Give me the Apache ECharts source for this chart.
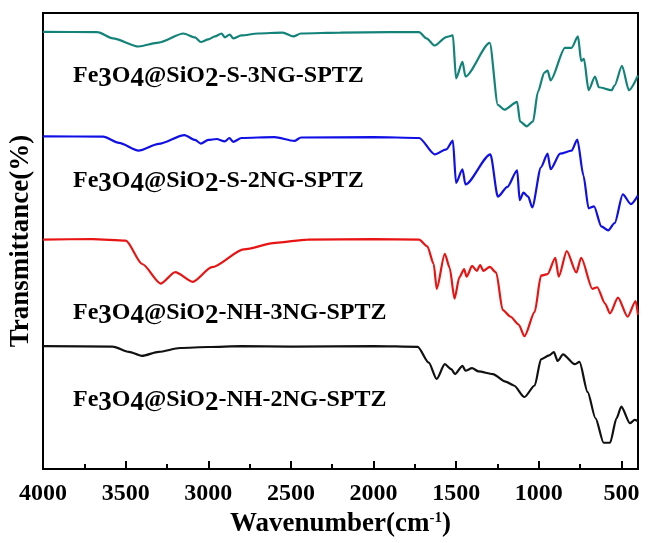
<!DOCTYPE html>
<html>
<head>
<meta charset="utf-8">
<script src="https://cdn.jsdelivr.net/npm/echarts@6/dist/echarts.min.js"></script>
<style>
  html, body { margin: 0; padding: 0; background: #fff; }
  #chart { width: 666px; height: 543px; }
</style>
</head>
<body>
<div id="chart"></div>
<script>
// FT-IR spectra, wavenumber (cm-1) vs stacked transmittance (arbitrary offset units)
const majorTicks = [4000, 3500, 3000, 2500, 2000, 1500, 1000, 500];
const minorTicks = [3750, 3250, 2750, 2250, 1750, 1250, 750];

// Fe3O4@SiO2-S-3NG-SPTZ (teal)
const waveS3 = [4000, 3670, 3577, 3422, 3300, 3150, 3080, 3045, 3000, 2960, 2920, 2900, 2870, 2850, 2800, 2700, 2550, 2485, 2440, 2200, 1900, 1724, 1680, 1630, 1560, 1520, 1501, 1462, 1444, 1297, 1248, 1209, 1131, 1114, 1073, 1035, 1006, 967, 947, 929, 842, 802, 763, 744, 727, 699, 660, 637, 559, 541, 497, 455, 400];
const transS3 = [447.7, 447.5, 441, 432.7, 436.7, 446, 442, 437.3, 440, 443, 446, 442, 445, 441, 444, 446, 447, 443, 446, 447, 447.5, 447.5, 441, 433.7, 442.4, 444, 400, 417, 402, 436.4, 373, 368, 376, 356, 351, 356, 386, 406, 408, 398, 431.3, 431.3, 443, 418, 420, 388, 402, 391, 388, 393, 413, 388, 403];

// Fe3O4@SiO2-S-2NG-SPTZ (blue)
const waveS2 = [4000, 3636, 3540, 3422, 3300, 3144, 3080, 3045, 3000, 2950, 2900, 2872, 2850, 2800, 2600, 2479, 2440, 2000, 1724, 1630, 1560, 1520, 1501, 1462, 1444, 1293, 1248, 1190, 1131, 1116, 1093, 1064, 1040, 987, 947, 929, 871, 802, 767, 730, 699, 666, 622, 580, 541, 492, 443, 400];
const transS2 = [340.7, 340.5, 334, 326, 333, 342, 337, 333.3, 337, 338, 335.5, 339, 335, 339, 340, 336, 339.5, 340, 339, 322.3, 327.3, 336.4, 293, 307, 291.4, 322.3, 279, 289, 306, 275.3, 283, 279, 268, 309, 323, 307, 323, 326, 337.4, 300.5, 267, 269, 248.5, 244.4, 252, 281.3, 271.3, 280.3];

// Fe3O4@SiO2-NH-3NG-SPTZ (red)
const waveN3 = [4000, 3700, 3499, 3400, 3287, 3200, 3094, 2978, 2785, 2594, 2400, 2000, 1724, 1675, 1636, 1618, 1569, 1540, 1510, 1481, 1452, 1437, 1404, 1375, 1355, 1336, 1297, 1258, 1219, 1171, 1122, 1087, 1025, 987, 947, 900, 880, 831, 773, 744, 676, 647, 599, 570, 521, 463, 414, 400];
const transN3 = [235, 235.5, 234, 210, 190, 201.7, 191.7, 206.7, 225, 231.7, 235, 235.5, 235, 228.2, 210, 184.6, 220.5, 206.4, 174.5, 196.3, 204.7, 197, 208, 203, 209, 203, 207, 201.3, 163, 156, 148, 136, 161, 198, 199.7, 216.4, 197, 223.2, 201.3, 216.4, 184.6, 186.2, 169.5, 159.4, 175.5, 156, 172.1, 158];

// Fe3O4@SiO2-NH-2NG-SPTZ (black)
const waveN2 = [4000, 3577, 3480, 3402, 3300, 3171, 3000, 2800, 2500, 2000, 1733, 1666, 1618, 1569, 1530, 1507, 1462, 1444, 1404, 1365, 1278, 1201, 1151, 1087, 1025, 987, 938, 909, 886, 854, 783, 754, 705, 657, 608, 569, 530, 501, 449, 420, 400];
const transN2 = [126, 125.5, 120, 116, 120, 124, 125, 126, 125.5, 126, 125.2, 109, 92.3, 107.4, 102.3, 97.3, 105.7, 100.7, 103.4, 100, 97.3, 89.6, 85.6, 73.8, 85.6, 112.4, 116.4, 119.8, 110.7, 117.4, 107.4, 109.7, 79, 52, 27, 27, 52, 64, 47, 50.3, 49];

const seriesNames = ['Fe3O4@SiO2-S-3NG-SPTZ', 'Fe3O4@SiO2-S-2NG-SPTZ', 'Fe3O4@SiO2-NH-3NG-SPTZ', 'Fe3O4@SiO2-NH-2NG-SPTZ'];
const colors = ['#13837a', '#1010e6', '#e81414', '#111111'];

const pairs = (w, t) => w.map((x, i) => [x, t[i]]);
const spectra = [pairs(waveS3, transS3), pairs(waveS2, transS2), pairs(waveN3, transN3), pairs(waveN2, transN2)];

const font = 'Liberation Serif, Times New Roman, serif';

// label text with the formula digits drawn larger, like the original
const richLabel = (name) => name.replace(/(Fe)3(O)4(@SiO)2/, '$1{d|3}$2{d|4}$3{d|2}');
const labelTops = [64, 169, 301, 388];

const chart = echarts.init(document.getElementById('chart'), null, { renderer: 'canvas' });

chart.setOption({
  backgroundColor: '#fff',
  animation: false,
  grid: {
    left: 40, right: 3, top: 13, bottom: 63,
    show: true, borderColor: '#000', borderWidth: 2, backgroundColor: 'transparent'
  },
  xAxis: [
    {
      type: 'value',
      min: 400,
      max: 4000,
      inverse: true,
      name: 'Wavenumber(cm{sup|-1})',
      nameLocation: 'middle',
      nameGap: 38,
      nameTextStyle: {
        fontFamily: font, fontWeight: 'bold', fontSize: 27, color: '#000',
        rich: { sup: { fontFamily: font, fontWeight: 'bold', fontSize: 15, verticalAlign: 'top', padding: [0, 0, 12, 0], color: '#000' } }
      },
      axisLine: { show: true, onZero: false, lineStyle: { color: '#000', width: 2 } },
      axisTick: { show: true, inside: true, length: 8, customValues: majorTicks, lineStyle: { color: '#000', width: 2 } },
      axisLabel: {
        customValues: majorTicks, margin: 13,
        formatter: (v) => String(v),
        fontFamily: font, fontWeight: 'bold', fontSize: 24, color: '#000'
      },
      splitLine: { show: false }
    },
    {
      type: 'value',
      min: 400,
      max: 4000,
      inverse: true,
      position: 'bottom',
      axisLine: { show: false },
      axisTick: { show: true, inside: true, length: 5, customValues: minorTicks, lineStyle: { color: '#000', width: 2 } },
      axisLabel: { show: false },
      splitLine: { show: false }
    }
  ],
  yAxis: {
    type: 'value',
    min: 0,
    max: 467,
    name: 'Transmittance(%)',
    nameLocation: 'middle',
    nameGap: 8,
    nameTextStyle: { fontFamily: font, fontWeight: 'bold', fontSize: 27, color: '#000' },
    axisLine: { show: true, lineStyle: { color: '#000', width: 2 } },
    axisTick: { show: false },
    axisLabel: { show: false },
    splitLine: { show: false }
  },
  series: spectra.map((d, i) => ({
    name: seriesNames[i],
    type: 'line',
    data: d,
    showSymbol: false,
    smooth: 0.25,
    smoothMonotone: 'x',
    lineStyle: { color: colors[i], width: 2.2 },
    z: 3
  })),
  graphic: seriesNames.map((name, i) => ({
    type: 'text',
    left: 73,
    top: labelTops[i],
    style: {
      text: richLabel(name),
      font: 'bold 24px ' + font,
      fill: '#000',
      rich: {
        d: { fontFamily: font, fontWeight: 'bold', fontSize: 27, fill: '#000', padding: [6, 0, 0, 0] }
      }
    }
  }))
});
</script>
</body>
</html>
